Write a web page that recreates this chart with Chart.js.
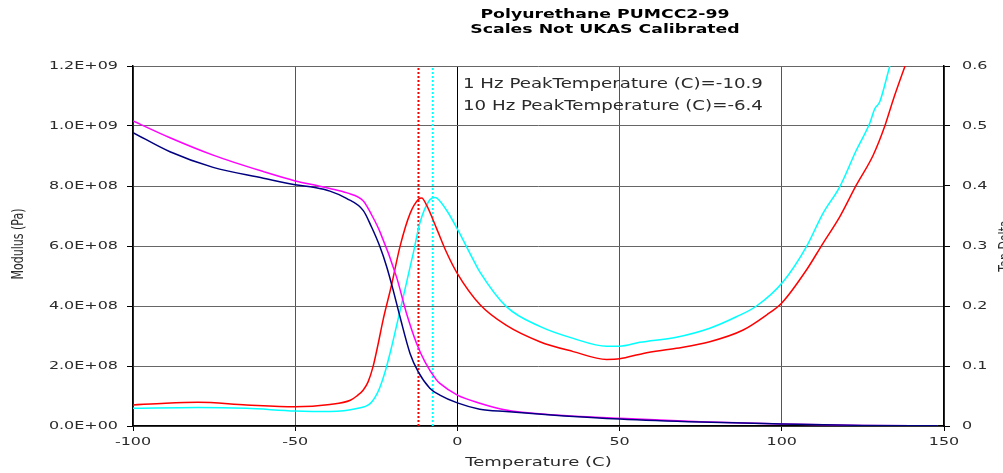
<!DOCTYPE html>
<html>
<head>
<meta charset="utf-8">
<script src="https://cdn.jsdelivr.net/npm/chart.js@4.4.0/dist/chart.umd.min.js"></script>
<style>
  html, body { margin: 0; padding: 0; background: #fff; }
  #wrap { width: 1003px; height: 473px; position: relative; }
</style>
</head>
<body>
<div id="wrap"><canvas id="dmaChart"></canvas></div>
<script>
// text
const titleLines = ['Polyurethane PUMCC2-99', 'Scales Not UKAS Calibrated'];
const peakLabels = ['1 Hz PeakTemperature (C)=-10.9', '10 Hz PeakTemperature (C)=-6.4'];
const xTitle = 'Temperature (C)';
const yTitle = 'Modulus (Pa)';
const y1Title = 'Tan Delta';

// tick values
const xTicks = [-100, -50, 0, 50, 100, 150];
const modulusTicks = [0, 2e8, 4e8, 6e8, 8e8, 1e9, 1.2e9];
const tanTicks = [0, 0.1, 0.2, 0.3, 0.4, 0.5, 0.6];

// dotted peak markers (where they sit on the plot)
const peakLineTemps = [-12.0, -7.6];

// storage modulus, 1 Hz (navy)
const tempMod1 = [-100, -88.6, -75.3, -59.8, -50, -44, -39.3, -34.2, -29, -26.5, -23.9, -21.8, -19.8, -17.7, -14.6, -12.1, -8.5, -5.4, 0, 6.9, 15, 30, 50, 75, 100, 125, 148];
const mod1Hz = [9.78e8, 9.14e8, 8.62e8, 8.26e8, 8.04e8, 7.95e8, 7.83e8, 7.59e8, 7.18e8, 6.64e8, 5.98e8, 5.31e8, 4.53e8, 3.64e8, 2.42e8, 1.81e8, 1.26e8, 1.03e8, 7.7e7, 5.6e7, 4.8e7, 3.6e7, 2.3e7, 1.3e7, 7e6, 2e6, 5e5];

// storage modulus, 10 Hz (magenta)
const tempMod10 = [-100, -88.6, -75.3, -59.8, -50, -44, -39.3, -34, -29, -26.5, -23.9, -18.8, -15.7, -12.6, -10, -6.4, -5.4, 0, 6.9, 15, 30, 50, 75, 100, 125, 148];
const mod10Hz = [1.017e9, 9.61e8, 9.03e8, 8.48e8, 8.17e8, 8.03e8, 7.92e8, 7.77e8, 7.5e8, 7.05e8, 6.48e8, 4.98e8, 3.76e8, 2.76e8, 2.14e8, 1.53e8, 1.42e8, 1.03e8, 7.6e7, 5.3e7, 3.7e7, 2.6e7, 1.4e7, 7e6, 2e6, 5e5];

// tan delta, 1 Hz (red)
const tempTan1 = [-100, -90, -80, -65, -50, -39.3, -33, -31, -29, -27.5, -26, -24.5, -22.9, -20.3, -17.7, -14.6, -12, -11, -9.5, -6.4, -3.4, 0, 7, 15, 25.4, 35.7, 46, 50, 57.3, 67.5, 77.8, 88.1, 95.3, 100, 107.6, 112.7, 117.9, 123, 128.2, 131.7, 134.3, 138, 140];
const tan1Hz = [0.035, 0.038, 0.0395, 0.035, 0.032, 0.036, 0.043, 0.05, 0.06, 0.074, 0.099, 0.135, 0.177, 0.235, 0.299, 0.354, 0.378, 0.38, 0.368, 0.329, 0.29, 0.254, 0.202, 0.168, 0.1405, 0.124, 0.111, 0.112, 0.121, 0.1295, 0.1405, 0.16, 0.185, 0.205, 0.26, 0.3045, 0.349, 0.4017, 0.4517, 0.499, 0.543, 0.6, 0.63];

// tan delta, 10 Hz (cyan)
const tempTan10 = [-100, -80, -65, -50, -39.3, -31, -27, -25.5, -24, -22.3, -20.5, -18.8, -16.2, -13.6, -11.6, -8.5, -6.9, -3.4, 0, 4.9, 6.9, 15.1, 25.4, 35.7, 46, 50, 56.2, 67.5, 77.8, 86, 92.2, 100.4, 107.6, 112.7, 117.9, 123, 127.1, 128.6, 130.2, 133.3, 135];
const tan10Hz = [0.0295, 0.031, 0.0295, 0.025, 0.024, 0.029, 0.037, 0.047, 0.063, 0.09, 0.127, 0.166, 0.227, 0.288, 0.338, 0.377, 0.381, 0.36, 0.328, 0.277, 0.257, 0.199, 0.166, 0.146, 0.133, 0.133, 0.1395, 0.148, 0.163, 0.182, 0.2, 0.2405, 0.299, 0.3545, 0.399, 0.46, 0.5045, 0.528, 0.5405, 0.6, 0.63];

const pts = (xs, ys) => xs.map((x, i) => ({ x: x, y: ys[i] }));

function fmtSci(v) {
    if (v === 0) return '0.0E+00';
    const e = Math.floor(Math.log10(v) + 1e-9);
    const m = v / Math.pow(10, e);
    return m.toFixed(1) + 'E+' + String(e).padStart(2, '0');
}

// the reference text is stretched sideways, so draw it scaled
function drawText(ctx, text, x, y, o) {
    ctx.save();
    ctx.font = o.font;
    ctx.fillStyle = o.color || '#2a2a2a';
    ctx.textAlign = o.align || 'left';
    ctx.textBaseline = o.baseline || 'middle';
    ctx.translate(x, y);
    ctx.scale(o.sx || 1, 1);
    if (o.rotate) ctx.rotate(-Math.PI / 2);
    ctx.fillText(text, 0, 0);
    ctx.restore();
}

const TICK_FONT = '11px "DejaVu Sans"';
const TICK_SX = 1.45;

const textPlugin = {
    id: 'dmaText',
    afterDraw(chart) {
        const ctx = chart.ctx;
        const sx = chart.scales.x, sy = chart.scales.y, sy1 = chart.scales.y1;

        sx.ticks.forEach(t => {
            drawText(ctx, String(t.value), sx.getPixelForValue(t.value), 442,
                { font: TICK_FONT, sx: TICK_SX, align: 'center' });
        });
        sy.ticks.forEach(t => {
            drawText(ctx, fmtSci(t.value), 118, sy.getPixelForValue(t.value),
                { font: TICK_FONT, sx: TICK_SX, align: 'right' });
        });
        sy1.ticks.forEach(t => {
            drawText(ctx, String(+t.value.toFixed(1)), 962, sy1.getPixelForValue(t.value),
                { font: TICK_FONT, sx: TICK_SX, align: 'left' });
        });

        // axis titles
        drawText(ctx, xTitle, (chart.chartArea.left + chart.chartArea.right) / 2, 463,
            { font: '12px "DejaVu Sans"', sx: 1.5, align: 'center' });
        drawText(ctx, yTitle, 19, 244,
            { font: '11px "DejaVu Sans"', sx: 1.4, align: 'center', rotate: true });
        drawText(ctx, y1Title, 998, 246,
            { font: '11px "DejaVu Sans"', sx: 1.4, align: 'center', baseline: 'top', rotate: true });

        // chart title
        drawText(ctx, titleLines[0], 605, 18,
            { font: 'bold 13px "DejaVu Sans"', sx: 1.33, align: 'center', baseline: 'alphabetic', color: '#000' });
        drawText(ctx, titleLines[1], 605, 33,
            { font: 'bold 13px "DejaVu Sans"', sx: 1.33, align: 'center', baseline: 'alphabetic', color: '#000' });

        // peak temperature notes
        drawText(ctx, peakLabels[0], 463, 88,
            { font: '14px "DejaVu Sans"', sx: 1.3, baseline: 'alphabetic' });
        drawText(ctx, peakLabels[1], 463, 110,
            { font: '14px "DejaVu Sans"', sx: 1.3, baseline: 'alphabetic' });
    }
};

const lineStyle = { pointRadius: 0, borderWidth: 1.5, fill: false, cubicInterpolationMode: 'monotone' };

new Chart(document.getElementById('dmaChart'), {
    type: 'line',
    data: {
        datasets: [
            Object.assign({ label: 'E\' 1 Hz', data: pts(tempMod1, mod1Hz), borderColor: '#000080', yAxisID: 'y' }, lineStyle),
            Object.assign({ label: 'E\' 10 Hz', data: pts(tempMod10, mod10Hz), borderColor: '#ff00ff', yAxisID: 'y' }, lineStyle),
            Object.assign({ label: 'Tan Delta 1 Hz', data: pts(tempTan1, tan1Hz), borderColor: '#ff0000', yAxisID: 'y1' }, lineStyle),
            Object.assign({ label: 'Tan Delta 10 Hz', data: pts(tempTan10, tan10Hz), borderColor: '#00ffff', yAxisID: 'y1' }, lineStyle),
            {
                label: '1 Hz peak',
                data: [{ x: peakLineTemps[0], y: 0 }, { x: peakLineTemps[0], y: 1.2e9 }],
                borderColor: '#ff0000', borderWidth: 2, borderDash: [2, 2], pointRadius: 0, yAxisID: 'y'
            },
            {
                label: '10 Hz peak',
                data: [{ x: peakLineTemps[1], y: 0 }, { x: peakLineTemps[1], y: 1.2e9 }],
                borderColor: '#00ffff', borderWidth: 2, borderDash: [2, 2], pointRadius: 0, yAxisID: 'y'
            }
        ]
    },
    options: {
        responsive: true,
        maintainAspectRatio: false,
        animation: false,
        layout: { padding: { top: 66, left: 0, right: 0, bottom: 0 } },
        plugins: {
            legend: { display: false },
            title: { display: false },
            tooltip: { enabled: false }
        },
        scales: {
            x: {
                type: 'linear',
                min: -100,
                max: 150,
                afterBuildTicks: s => { s.ticks = xTicks.map(v => ({ value: v })); },
                afterFit: s => { s.height = 47; },
                ticks: { display: false },
                grid: {
                    color: c => (c.tick && c.tick.value === 0) ? '#000' : '#555',
                    lineWidth: 1,
                    tickColor: '#000',
                    tickLength: 5
                },
                border: { color: '#000', width: 1.5 }
            },
            y: {
                position: 'left',
                min: 0,
                max: 1.2e9,
                afterBuildTicks: s => { s.ticks = modulusTicks.map(v => ({ value: v })); },
                afterFit: s => { s.width = 133; },
                ticks: { display: false },
                grid: { color: '#666', lineWidth: 1, tickColor: '#000', tickLength: 6 },
                border: { color: '#000', width: 1.5 }
            },
            y1: {
                position: 'right',
                min: 0,
                max: 0.6,
                afterBuildTicks: s => { s.ticks = tanTicks.map(v => ({ value: v })); },
                afterFit: s => { s.width = 59; },
                ticks: { display: false },
                grid: { drawOnChartArea: false, tickColor: '#000', tickLength: 6 },
                border: { color: '#000', width: 1.5 }
            }
        }
    },
    plugins: [textPlugin]
});
</script>
</body>
</html>
